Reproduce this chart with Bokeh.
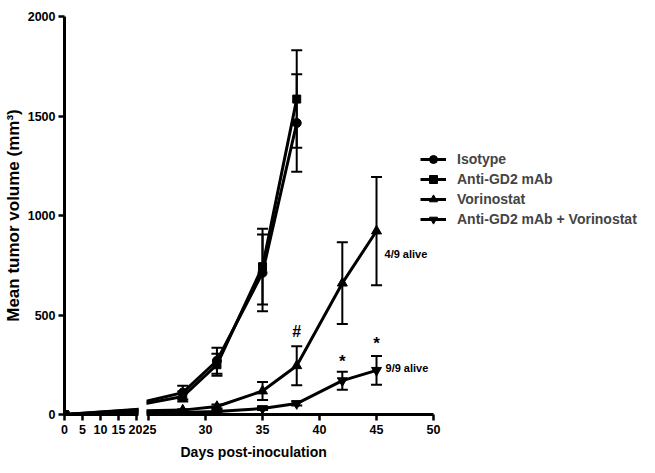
from bokeh.plotting import figure
from bokeh.layouts import row
from bokeh.models import (ColumnDataSource, Whisker, TeeHead, FixedTicker, Range1d,
                          Legend, LegendItem, Label, Title)
from bokeh.embed import file_html
from bokeh.resources import INLINE

# ---------------- data ----------------
days_a = [0, 22, 28, 31, 35, 38]
iso_mean = [0, 28, 110, 270, 712, 1465]
iso_sem = [0, 0, 35, 65, 193, 245]
anti_mean = [0, 26, 90, 250, 743, 1585]
anti_sem = [0, 0, 25, 55, 190, 245]

days_b = [0, 22, 28, 31, 35, 38, 42, 45]
vor_mean = [0, 15, 22, 40, 118, 245, 660, 922]
vor_sem = [0, 0, 5, 10, 45, 98, 205, 272]
combo_mean = [0, 12, 10, 15, 30, 55, 170, 222]
combo_sem = [0, 0, 3, 5, 8, 10, 45, 72]

left_ticks = [0, 5, 10, 15, 20]
right_ticks = [25, 30, 35, 40, 45, 50]
y_ticks = [0, 500, 1000, 1500, 2000]

series = [
    ("Isotype", days_a, iso_mean, iso_sem, "circle", 9),
    ("Anti-GD2 mAb", days_a, anti_mean, anti_sem, "square", 8),
    ("Vorinostat", days_b, vor_mean, vor_sem, "triangle", 10),
    ("Anti-GD2 mAb + Vorinostat", days_b, combo_mean, combo_sem, "inverted_triangle", 10),
]

FONT = "Liberation Sans"
yr = Range1d(0, 2000)
H = 470
TOP = 16
BOTTOM = 56


def style_axis(ax):
    ax.axis_line_width = 3
    ax.axis_line_color = "black"
    ax.major_tick_line_width = 2.5
    ax.major_tick_line_color = "black"
    ax.major_tick_out = 6
    ax.major_tick_in = 0
    ax.minor_tick_line_color = None
    ax.major_label_text_font = FONT
    ax.major_label_text_font_style = "bold"
    ax.major_label_text_font_size = "12.5px"
    ax.major_label_text_color = "black"
    ax.axis_label_text_font = FONT
    ax.axis_label_text_font_style = "bold"
    ax.axis_label_text_color = "black"


def style_fig(p):
    for ax in p.xaxis + p.yaxis:
        style_axis(ax)
    p.xgrid.visible = False
    p.ygrid.visible = False
    p.outline_line_color = None


# left segment of the broken axis
pl = figure(width=142, height=H, x_range=Range1d(0, 20.56), y_range=yr,
            output_backend="svg", toolbar_location=None,
            min_border_left=64, min_border_right=4, min_border_top=TOP, min_border_bottom=BOTTOM)
style_fig(pl)
pl.xaxis.ticker = FixedTicker(ticks=left_ticks)
pl.yaxis.ticker = FixedTicker(ticks=y_ticks)
pl.xaxis.major_label_standoff = 4
pl.yaxis.major_label_standoff = 3
pl.yaxis.axis_label = "Mean tumor volume (mm\u00b3)"
pl.yaxis.axis_label_text_font_size = "17px"
pl.yaxis.axis_label_standoff = 2

# right segment (frame extends over the legend area; axis line limited by bounds)
px_per_day = 287 / (50.0 - 24.82)
frame_w = 500 - 4
pr = figure(width=500, height=H, x_range=Range1d(24.82, 24.82 + frame_w / px_per_day),
            y_range=yr, output_backend="svg", toolbar_location=None,
            min_border_left=4, min_border_right=0, min_border_top=TOP, min_border_bottom=BOTTOM)
style_fig(pr)
pr.xaxis.ticker = FixedTicker(ticks=right_ticks)
pr.xaxis.bounds = (24.82, 50.0)
pr.xaxis.major_label_standoff = 4
pr.yaxis.visible = False

# x-axis title placed under the whole broken axis
pr.add_layout(Title(text="Days post-inoculation", align="left", offset=34, standoff=11,
                    text_font=FONT, text_font_style="bold", text_font_size="14px",
                    text_color="black"), "below")

items = []
for name, d, m, s, marker, size in series:
    src = ColumnDataSource(dict(x=d, y=m))
    for p in (pl, pr):
        ln = p.line("x", "y", source=src, line_color="black", line_width=3)
        mk = p.scatter("x", "y", source=src, marker=marker, size=size,
                       fill_color="black", line_color="black")
    items.append(LegendItem(label=name, renderers=[ln, mk]))
    eb = [(di, mi - si, mi + si) for di, mi, si in zip(d, m, s) if si > 0]
    esrc = ColumnDataSource(dict(base=[e[0] for e in eb], lower=[e[1] for e in eb],
                                 upper=[e[2] for e in eb]))
    pr.add_layout(Whisker(source=esrc, base="base", lower="lower", upper="upper",
                          line_color="black", line_width=2,
                          upper_head=TeeHead(size=11, line_width=2, line_color="black"),
                          lower_head=TeeHead(size=11, line_width=2, line_color="black")))

legend = Legend(items=items, location=(274, 185), border_line_color=None,
                background_fill_alpha=0, padding=0, margin=0, spacing=0,
                glyph_width=26, glyph_height=20, label_height=20, label_standoff=11,
                label_text_font=FONT, label_text_font_style="bold",
                label_text_font_size="14px", label_text_baseline="middle")
pr.add_layout(legend)

# annotations
def lab(text, x, y, xo=0, yo=0, size="15px", align="center", base="bottom"):
    pr.add_layout(Label(x=x, y=y, x_offset=xo, y_offset=yo, text=text,
                        text_font=FONT, text_font_style="bold", text_font_size=size,
                        text_align=align, text_baseline=base, text_color="black"))

lab("#", days_b[5], vor_mean[5] + vor_sem[5], yo=6, size="16px")
lab("*", days_b[6], combo_mean[6] + combo_sem[6], yo=1, size="17px")
lab("*", days_b[7], combo_mean[7] + combo_sem[7], yo=3, size="17px")
lab("4/9 alive", days_b[7], vor_mean[7], xo=8, yo=-23, size="11px", align="left", base="middle")
lab("9/9 alive", days_b[7], combo_mean[7], xo=9, yo=2, size="11px", align="left", base="middle")

layout = row(pl, pr, spacing=0)
open("out.html", "w").write(file_html(layout, INLINE))
